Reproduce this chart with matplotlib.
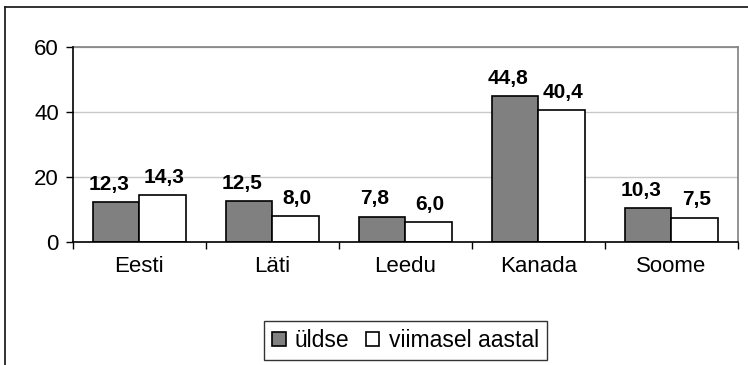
import numpy as np
import matplotlib
matplotlib.use("Agg")
import matplotlib.pyplot as plt
from matplotlib.lines import Line2D
from matplotlib.patches import Patch

plt.rcParams["font.family"] = ["Liberation Sans", "DejaVu Sans"]

countries = ["Eesti", "Läti", "Leedu", "Kanada", "Soome"]
overall = [12.3, 12.5, 7.8, 44.8, 10.3]        # üldse
last_year = [14.3, 8.0, 6.0, 40.4, 7.5]        # viimasel aastal
series_names = ["üldse", "viimasel aastal"]
yticks = [0, 20, 40, 60]

GRAY = "#808080"
W = 0.35

fig = plt.figure(figsize=(7.48, 3.65), dpi=100)
ax = fig.add_axes([72.7 / 748, 1 - 242 / 365, (738 - 72.7) / 748, (242 - 46.7) / 365])

# outer chart frame (left and top edges visible)
fig.add_artist(Line2D([5 / 748, 5 / 748], [0, 1 - 7 / 365], transform=fig.transFigure,
                      color="#222222", lw=1.3))
fig.add_artist(Line2D([5 / 748, 1], [1 - 7 / 365, 1 - 7 / 365], transform=fig.transFigure,
                      color="#222222", lw=1.3))

x = np.arange(len(countries))
b1 = ax.bar(x - W / 2, overall, W, color=GRAY, edgecolor="black", linewidth=1.2, zorder=3)
b2 = ax.bar(x + W / 2, last_year, W, color="white", edgecolor="black", linewidth=1.2, zorder=3)


def fmt(v):
    return f"{v:.1f}".replace(".", ",")


for bars, vals, dx in ((b1, overall, -5), (b2, last_year, 1)):
    for r, v in zip(bars, vals):
        ax.annotate(fmt(v), (r.get_x() + r.get_width() / 2, v), xytext=(dx, 6),
                    textcoords="offset points", ha="center", va="bottom",
                    fontsize=15, fontweight="bold", zorder=4)

ax.set_ylim(0, 60)
ax.set_yticks(yticks)
ax.set_xlim(-0.5, len(countries) - 0.5)
ax.set_xticks(np.arange(len(countries) + 1) - 0.5)
ax.set_xticklabels([])
ax.set_xticks(x, minor=True)
ax.set_xticklabels(countries, minor=True)
ax.tick_params(axis="x", which="major", direction="out", length=5, width=1, color="black")
ax.tick_params(axis="x", which="minor", length=0, pad=10, labelsize=16)
ax.tick_params(axis="y", direction="out", length=5, width=1, pad=5, labelsize=16)

ax.grid(axis="y", color="#c8c8c8", lw=1, zorder=0)
ax.spines["left"].set_color("black")
ax.spines["bottom"].set_color("black")
ax.spines["top"].set_color(GRAY)
ax.spines["right"].set_color(GRAY)
for s in ax.spines.values():
    s.set_linewidth(1.2)
ax.spines["left"].set_zorder(5)
ax.spines["bottom"].set_zorder(5)

handles = [Patch(facecolor=GRAY, edgecolor="black", lw=1.2),
           Patch(facecolor="white", edgecolor="black", lw=1.2)]
leg = ax.legend(handles, series_names, ncol=2, loc="center",
                bbox_to_anchor=(0.5, (1 - 340.5 / 365 - (1 - 242 / 365)) / ((242 - 46.7) / 365)),
                fontsize=16.5, frameon=True, fancybox=False, shadow=False,
                handlelength=0.6, handleheight=0.6, handletextpad=0.4,
                columnspacing=0.7, borderpad=0.35, borderaxespad=0)
leg.get_frame().set_edgecolor("black")
leg.get_frame().set_linewidth(1.0)

fig.savefig("out.png", dpi=100)
